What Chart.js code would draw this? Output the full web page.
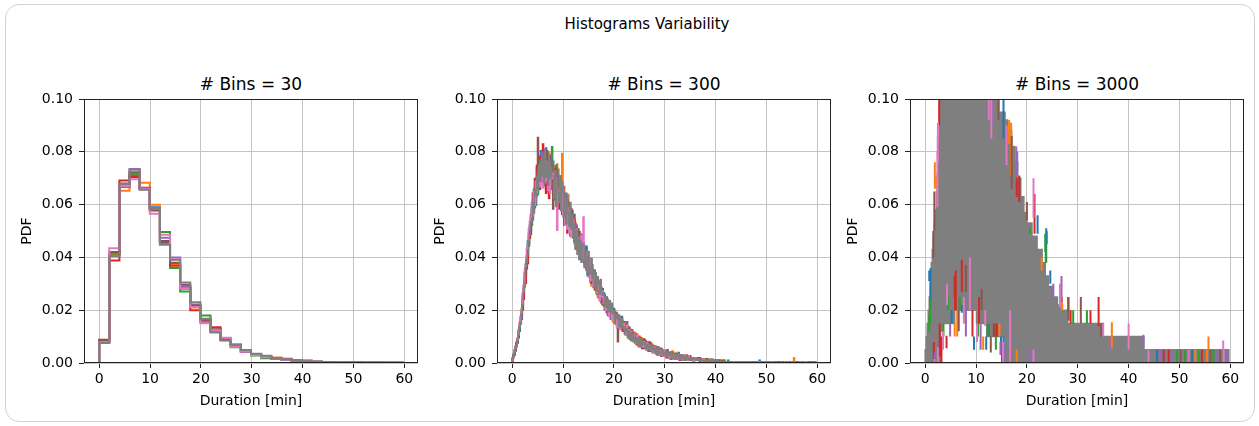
<!DOCTYPE html>
<html>
<head>
<meta charset="utf-8">
<script src="https://cdn.jsdelivr.net/npm/chart.js@4.4.0/dist/chart.umd.min.js"></script>
<style>
  html, body { margin: 0; padding: 0; background: #fff; }
  body { width: 1259px; height: 426px; position: relative; overflow: hidden; font-family: 'DejaVu Sans', sans-serif; color: #000; }
  .card { position: absolute; left: 5px; top: 4px; width: 1250px; height: 418px; border: 1px solid #d2d2d2; border-radius: 14px; box-sizing: border-box; }
  .suptitle { position: absolute; left: 447px; top: 14px; width: 400px; text-align: center; font-size: 15px; line-height: 20px; }
  .subtitle { position: absolute; top: 74px; width: 300px; text-align: center; font-size: 17px; line-height: 20px; }
  .panel { position: absolute; top: 70px; width: 420px; height: 355px; }
</style>
</head>
<body>
<div class="card"></div>
<div class="suptitle">Histograms Variability</div>
<div class="subtitle" style="left:101px"># Bins = 30</div>
<div class="subtitle" style="left:514px"># Bins = 300</div>
<div class="subtitle" style="left:927px"># Bins = 3000</div>
<div class="panel" style="left:0px"><canvas id="h30" width="420" height="355"></canvas></div>
<div class="panel" style="left:413px"><canvas id="h300" width="420" height="355"></canvas></div>
<div class="panel" style="left:826px"><canvas id="h3000" width="420" height="355"></canvas></div>
<script>
// durations span 0 .. 59.7 min, 10000 samples per series
const dataMin = 0;
const dataMax = 59.7;
const sampleSize = 10000;

const xTicks = [0, 10, 20, 30, 40, 50, 60];
const yTicks = [0, 0.02, 0.04, 0.06, 0.08, 0.1];

const seriesColors = ['#1f77b4', '#ff7f0e', '#2ca02c', '#d62728', '#9467bd', '#8c564b', '#e377c2', '#7f7f7f'];

// 30 bins: density per bin
const pdf30Blue   = [.0080,.0412,.0668,.0722,.0662,.0590,.0462,.0378,.0284,.0214,.0162,.0122,.0088,.0062,.0045,.0030,.0024,.0017,.0013,.0010,.0007,.0005,.0004,.0003,.0002,.0002,.0001,.0001,.0001,.0001];
const pdf30Orange = [.0084,.0408,.0652,.0716,.0683,.0599,.0455,.0372,.0280,.0210,.0158,.0126,.0086,.0066,.0042,.0034,.0025,.0021,.0015,.0009,.0008,.0005,.0003,.0003,.0002,.0001,.0002,.0001,.0001,.0000];
const pdf30Green  = [.0078,.0415,.0668,.0712,.0660,.0585,.0496,.0360,.0271,.0216,.0180,.0118,.0090,.0060,.0047,.0028,.0018,.0019,.0014,.0011,.0006,.0005,.0003,.0002,.0002,.0002,.0001,.0001,.0000,.0001];
const pdf30Red    = [.0088,.0388,.0691,.0705,.0664,.0578,.0460,.0368,.0290,.0200,.0165,.0135,.0092,.0070,.0044,.0033,.0026,.0016,.0016,.0009,.0009,.0004,.0004,.0002,.0002,.0002,.0001,.0002,.0001,.0001];
const pdf30Purple = [.0081,.0418,.0672,.0735,.0658,.0588,.0474,.0400,.0288,.0222,.0155,.0120,.0094,.0064,.0043,.0031,.0023,.0018,.0012,.0010,.0007,.0004,.0003,.0003,.0001,.0001,.0001,.0001,.0001,.0000];
const pdf30Brown  = [.0086,.0420,.0680,.0722,.0662,.0580,.0456,.0380,.0296,.0218,.0164,.0128,.0089,.0068,.0046,.0032,.0024,.0017,.0015,.0010,.0008,.0005,.0003,.0002,.0002,.0001,.0001,.0001,.0001,.0001];
const pdf30Pink   = [.0079,.0435,.0670,.0696,.0660,.0565,.0486,.0392,.0282,.0212,.0151,.0124,.0096,.0062,.0044,.0030,.0022,.0017,.0013,.0010,.0007,.0004,.0003,.0002,.0002,.0001,.0001,.0001,.0001,.0001];
const pdf30Gray   = [.0076,.0404,.0678,.0732,.0656,.0583,.0448,.0391,.0305,.0230,.0168,.0116,.0085,.0069,.0049,.0035,.0027,.0019,.0014,.0011,.0007,.0005,.0004,.0002,.0002,.0001,.0001,.0001,.0001,.0001];

// 300 bins: counts per bin (10 bins = 2 min per group)
const counts300Blue = [
  3,4,10,9,16,15,25,24,35,33, 51,49,68,66,71,92,88,104,99,118, 108,131,122,119,147,129,152,135,160,139,
  133,158,141,162,137,150,128,155,139,131, 152,127,145,121,138,146,117,135,139,112, 131,116,108,128,122,99,119,115,96,112,
  95,112,104,86,101,99,78,94,97,80, 91,74,84,88,66,79,76,61,72,70, 57,70,63,52,65,49,61,58,45,56,
  53,40,49,47,36,45,43,33,44,35, 41,30,37,35,26,36,27,33,35,24, 30,22,28,31,19,27,24,17,25,18,
  23,15,21,19,13,20,14,19,11,17, 17,11,15,14,9,16,10,13,14,8, 13,8,11,7,12,10,6,11,9,5,
  9,5,8,10,6,4,8,7,3,7, 7,3,6,4,8,5,2,6,4,5, 5,3,6,2,4,5,2,4,3,1,
  2,4,3,3,2,4,2,3,2,2, 2,3,1,3,2,2,1,3,2,1, 1,2,2,1,1,2,1,1,0,2,
  1,1,0,2,1,0,1,1,0,1, 0,1,1,0,1,0,0,1,1,0, 1,0,0,1,0,1,0,0,1,0,
  0,1,0,0,2,0,0,1,0,0, 1,0,0,1,0,0,1,0,0,1, 0,0,1,0,0,1,0,0,0,1,
  0,1,0,0,0,1,0,0,1,0, 0,0,1,0,0,0,1,0,0,0, 1,0,0,0,1,0,0,0,1,0
];
const counts300Orange = [
  1,7,6,13,12,19,20,30,29,41, 40,58,57,75,81,79,98,95,112,107, 123,115,133,138,126,147,134,155,141,137,
  150,139,135,158,144,129,159,137,146,153, 131,148,139,125,150,123,139,119,133,158, 115,133,111,124,108,127,102,118,112,95,
  110,90,106,101,85,99,96,81,95,78, 77,89,72,84,80,65,78,73,58,74, 69,55,67,61,50,62,59,47,57,44,
  43,52,41,50,38,46,35,44,41,31, 33,40,29,38,35,27,34,26,33,30, 24,31,21,29,27,18,26,20,24,16,
  16,23,14,22,19,12,20,13,18,12, 12,17,10,16,11,14,9,15,8,13, 8,13,7,12,9,6,11,5,10,7,
  5,10,6,9,4,8,7,3,9,5, 3,8,4,7,6,3,6,2,5,3, 2,6,3,5,4,2,5,3,2,4,
  4,2,4,2,3,2,3,2,3,1, 3,1,3,2,2,1,3,1,2,2, 2,1,2,1,1,1,2,0,1,1,
  1,0,1,1,0,1,1,0,1,0, 1,0,0,1,0,0,1,0,0,1, 0,1,0,0,1,0,0,1,0,0,
  1,0,0,1,0,0,0,1,0,0, 0,1,0,0,0,1,0,0,1,0, 0,0,0,1,0,0,0,1,0,0,
  0,0,1,0,0,0,0,0,4,0, 0,1,0,0,0,0,1,0,0,0, 0,0,0,1,0,0,0,0,0,0
];
const counts300Green = [
  2,6,6,12,15,18,24,26,31,40, 49,52,66,71,74,88,90,97,110,104, 119,128,117,136,131,127,150,140,153,144,
  139,155,143,131,157,140,151,133,145,163, 146,130,141,149,126,137,124,141,118,129, 129,112,126,109,121,106,118,101,115,98,
  99,108,102,88,97,101,84,90,95,80, 86,79,74,83,70,76,73,62,71,66, 67,60,55,64,52,60,55,48,56,44,
  52,45,41,48,39,44,37,42,40,33, 39,34,30,37,29,34,28,32,27,25, 29,27,21,26,23,20,24,19,23,18,
  21,18,15,20,14,19,15,13,17,12, 16,13,10,15,11,14,9,12,10,8, 12,9,7,11,8,10,6,9,7,6,
  9,6,5,8,7,4,8,5,6,4, 7,5,3,6,4,6,3,5,2,4, 5,4,2,5,3,2,4,3,2,3,
  3,3,2,4,2,3,2,2,3,1, 2,2,2,3,1,2,2,1,2,2, 2,1,1,2,1,1,1,1,0,2,
  1,1,0,1,1,0,1,0,1,1, 0,1,0,0,1,0,1,0,0,1, 0,0,1,0,0,1,0,0,1,0,
  1,0,0,0,1,0,0,1,0,0, 0,0,1,0,0,0,1,0,0,0, 0,1,0,0,0,1,0,0,0,0,
  1,0,0,0,0,0,1,0,0,0, 0,0,1,0,0,0,0,1,0,0, 0,0,0,0,1,0,0,0,0,0
];
const counts300Red = [
  4,5,7,10,15,18,19,28,30,38, 40,48,61,60,76,75,90,94,97,112, 128,118,139,125,149,136,156,131,155,145,
  165,134,153,128,150,142,124,151,131,146, 141,123,146,131,127,140,116,136,120,115, 127,104,122,118,98,121,108,96,116,101,
  110,92,97,104,88,84,99,92,78,89, 87,76,85,70,80,67,73,76,60,68, 70,61,55,64,59,52,49,58,46,53,
  44,49,50,38,45,36,43,40,35,39, 40,31,37,29,36,33,27,30,32,24, 31,25,28,22,27,21,25,19,20,23,
  22,16,21,15,20,18,13,17,15,11, 18,12,16,11,15,9,15,12,10,13, 9,12,7,11,8,10,11,5,9,8,
  7,9,4,8,6,7,3,8,5,6, 6,3,7,4,5,2,6,4,3,5, 3,5,2,4,3,5,2,3,4,1,
  3,2,3,2,4,1,3,2,2,2, 2,2,3,1,2,1,2,2,1,2, 2,1,1,1,2,0,1,1,1,1,
  1,0,1,1,0,1,0,1,0,1, 0,1,0,1,0,0,1,0,1,0, 1,0,0,0,1,0,0,1,0,0,
  0,1,0,0,0,1,0,0,0,1, 0,0,1,0,0,0,0,1,0,0, 1,0,0,0,1,0,0,0,0,1,
  0,0,0,1,0,0,0,1,0,0, 0,1,0,0,0,0,1,0,0,0, 0,0,0,0,1,0,0,0,0,0
];
const counts300Purple = [
  1,5,9,11,12,17,23,30,31,35, 47,57,60,74,76,82,96,100,104,116, 111,127,131,122,141,143,133,150,137,159,
  156,140,161,150,139,155,148,134,157,138, 149,133,128,145,130,121,140,131,115,130, 133,114,121,108,126,104,115,111,99,108,
  107,96,105,90,99,95,86,97,82,91, 89,80,74,83,72,78,65,75,69,63, 61,66,58,62,53,59,50,56,49,51,
  51,43,48,40,47,38,45,36,42,34, 34,38,31,36,28,33,31,26,32,27, 26,29,23,27,20,26,21,24,18,22,
  20,17,21,15,18,16,19,14,16,15, 13,16,11,15,10,14,12,9,13,10, 9,11,8,12,7,10,8,9,6,9,
  6,8,5,9,7,5,8,4,7,6, 4,6,5,3,7,4,5,3,5,2, 3,5,4,2,5,3,2,4,3,2,
  3,2,3,2,3,2,2,2,2,2, 2,2,2,1,2,2,1,2,1,2, 1,2,1,1,1,1,1,0,1,1,
  1,0,1,0,1,0,1,0,0,1, 0,1,0,1,0,0,0,1,0,0, 0,0,1,0,0,1,0,0,0,1,
  0,0,0,1,0,0,1,0,0,0, 1,0,0,0,0,1,0,0,0,0, 0,0,1,0,0,0,0,1,0,0,
  0,1,0,0,0,0,0,0,1,0, 0,0,0,1,0,0,0,0,0,1, 0,0,1,0,0,0,0,0,0,1
];
const counts300Brown = [
  2,6,7,12,14,16,23,27,33,36, 44,56,63,67,80,86,89,102,103,113, 113,125,121,135,128,170,136,148,139,153,
  140,152,146,135,160,139,147,156,134,149, 116,143,134,147,125,138,133,122,137,119, 128,117,125,112,123,107,120,104,110,115,
  97,108,94,102,100,89,96,83,93,86, 78,87,81,72,79,70,76,66,74,62, 65,59,67,55,62,53,60,47,56,50,
  46,51,42,49,40,46,38,44,35,41, 37,33,38,31,16,35,28,33,26,31, 25,30,23,28,21,27,19,25,22,17,
  17,22,16,20,14,19,13,18,12,16, 12,17,11,15,13,10,14,9,13,10, 11,8,12,6,10,9,7,10,6,9,
  8,5,9,6,8,4,7,5,8,4, 4,7,3,6,5,4,6,2,5,3, 3,5,2,5,4,2,4,2,3,3,
  3,3,2,3,2,3,2,3,1,2, 2,3,1,2,2,2,1,2,1,2, 1,2,1,2,1,1,0,2,1,1,
  1,1,0,1,0,1,1,0,0,1, 0,1,0,0,1,0,1,0,0,0, 1,0,0,1,0,0,0,1,0,0,
  0,0,1,0,0,1,0,0,0,1, 0,1,0,0,0,0,1,0,0,0, 0,0,0,1,0,0,0,0,1,0,
  1,0,0,0,0,1,0,0,0,0, 0,0,1,0,0,0,0,1,0,0, 0,0,0,0,1,0,0,0,0,0
];
const counts300Pink = [
  2,4,10,12,12,19,25,29,34,40, 53,59,70,74,86,89,101,107,110,121, 111,129,119,137,128,136,146,133,152,140,
  132,149,136,152,138,130,150,128,144,139, 143,128,141,124,100,131,122,138,117,130, 110,124,104,120,101,117,98,112,95,108,
  108,93,99,101,86,95,92,83,96,79, 110,78,80,84,70,74,79,62,70,68, 58,66,61,53,59,55,47,56,50,54,
  45,48,40,44,46,35,42,38,33,39, 31,36,33,27,32,30,25,31,27,29, 30,24,21,28,22,25,19,24,17,22,
  22,17,14,21,16,18,12,17,14,12, 16,12,10,15,11,13,10,13,8,11, 12,9,7,11,8,10,6,9,7,5,
  9,6,5,8,7,4,7,5,6,4, 7,4,3,6,5,3,5,4,2,4, 6,3,4,2,5,3,2,4,3,1,
  3,3,2,2,3,2,2,1,3,2, 2,2,1,2,2,1,2,1,2,1, 1,1,2,1,1,0,1,1,1,0,
  0,1,1,0,1,0,1,0,1,0, 1,0,0,1,0,1,0,0,1,0, 0,1,0,0,0,1,0,1,0,0,
  0,0,1,0,1,0,0,0,1,0, 0,1,0,0,0,0,1,0,0,0, 1,0,0,0,0,1,0,0,0,1,
  0,0,1,0,0,0,1,0,0,0, 0,0,0,1,0,0,0,0,1,0, 1,0,0,0,0,0,0,1,0,0
];
const counts300Gray = [
  1,5,8,11,13,17,21,27,30,37, 44,53,60,72,78,82,92,97,106,108, 121,113,131,126,140,131,149,137,153,141,
  154,136,159,140,151,134,156,139,148,141, 141,124,145,118,139,128,121,141,115,136, 129,110,126,105,123,113,103,121,101,112,
  94,104,86,100,82,95,79,92,76,90, 88,72,85,80,68,84,71,67,79,64, 70,57,68,54,65,61,52,63,55,51,
  52,43,50,42,48,39,47,38,45,37, 40,30,37,34,36,28,35,27,33,26, 27,22,24,26,20,24,18,23,17,22,
  20,16,19,14,19,13,18,12,17,14, 15,13,11,14,10,12,14,9,13,10, 11,8,11,7,11,8,7,9,10,6,
  8,7,5,8,6,7,5,8,4,6, 7,3,6,5,3,6,3,4,6,2, 5,2,5,3,4,2,4,2,3,3,
  3,2,3,2,3,2,2,2,2,1, 2,2,1,2,2,1,2,1,2,2, 1,1,2,1,1,1,1,0,1,1,
  1,0,1,0,1,1,0,1,0,0, 0,1,0,1,0,0,1,0,0,1, 1,0,0,0,1,0,0,1,0,0,
  0,1,0,0,0,0,1,0,0,1, 0,0,1,0,1,0,0,0,1,0, 1,0,0,0,0,1,0,0,0,0,
  0,1,0,0,0,0,0,1,0,0, 0,0,0,1,0,0,1,0,0,0, 0,0,0,0,0,1,0,0,1,0
];

// 3000 bins: too dense to draw bin by bin, so the gray mass is an envelope
// (lower / upper density per x interval) and other colours show as spikes
const env3000X  = [0, 0.2, 0.4, 0.6, 0.8, 1.0, 1.2, 1.4, 1.6, 1.8, 2.0, 2.2, 2.4, 2.6, 2.8, 3.0, 3.4, 5.8, 10.1, 12.1, 14.5, 15.0, 15.7, 16.2, 17.0, 17.6, 18.2, 18.8, 19.4, 20.0, 21.0, 22.0, 23.0, 23.6, 24.2, 25.0, 26.0, 27.0, 28.0, 35.0, 43.0, 59.7];
const env3000Hi = [.005, .010, .015, .020, .025, .030, .038, .043, .048, .053, .058, .065, .072, .080, .090, .12, .12, .12, .12, .12, .095, .095, .092, .088, .082, .076, .070, .063, .057, .053, .048, .043, .038, .033, .029, .025, .022, .020, .015, .010, .005];
const env3000Lo = [0, 0, 0, 0, 0, 0, 0, 0, 0, 0, 0, 0, 0, 0, 0, .012, .015, .020, .015, .010, .010, .010, 0, 0, 0, 0, 0, 0, 0, 0, 0, 0, 0, 0, 0, 0, 0, 0, 0, 0, 0];

// spikes: [x, low density, high density]
const spikes3000Blue = [[0.8, .031, .035], [1.05, .021, .036], [5.2, .015, .020], [7.2, .019, .022], [9.6, .005, .010], [12.0, .005, .010], [12.5, .010, .015], [14.9, .005, .010], [15.4, .005, .010], [15.4, .085, .100], [22.1, .049, .056], [23.8, .038, .051], [23.9, .045, .050], [24.6, .030, .035], [45.6, 0, .005], [52.5, 0, .005]];
const spikes3000Orange = [[1.9, .066, .076], [2.3, .066, .071], [5.7, .020, .025], [5.8, .010, .015], [6.3, .010, .020], [11.4, .005, .010], [14.6, .010, .015], [16.5, .083, .092], [16.9, .071, .091], [18.0, 0, .005], [22.9, .035, .040], [26.9, .020, .025], [36.3, .005, .010], [36.7, .0057, .0154], [53.1, 0, .005], [55.4, 0, .005], [55.7, .005, .010]];
const spikes3000Green = [[0.8, .012, .018], [0.95, .015, .024], [3.6, .010, .015], [4.5, .020, .025], [6.8, .020, .025], [7.9, .015, .020], [10.4, .010, .015], [12.3, .010, .015], [13.9, .005, .012], [20.6, .049, .051], [23.6, .042, .049], [23.7, .038, .045], [29.1, .015, .020], [31.8, .015, .020], [49.5, 0, .005], [51.1, 0, .005], [53.8, 0, .005], [56.7, 0, .005]];
const spikes3000Red = [[1.7, 0, .008], [2.75, .090, .100], [2.85, .0025, .015], [3.2, 0, .010], [4.2, .0056, .0103], [5.8, .020, .033], [6.0, .020, .035], [7.2, .027, .039], [9.3, .010, .020], [10.6, .015, .025], [13.5, .010, .015], [14.1, .010, .015], [15.1, 0, .006], [16.7, 0, .005], [18.0, .063, .070], [18.5, .061, .071], [21.5, .049, .064], [28.6, .015, .020], [32.5, .015, .020], [34.1, .014, .025], [46.9, 0, .005], [47.9, 0, .005], [54.4, 0, .005]];
const spikes3000Purple = [[1.9, 0, .004], [4.9, .010, .015], [8.0, .010, .021], [10.9, .005, .015], [13.1, .090, .100], [14.8, .003, .008], [15.6, 0, .005], [17.9, .071, .082], [18.1, .073, .080], [20.5, 0, .005], [25.2, .025, .030], [26.8, .023, .033], [36.3, .005, .010], [42.9, .0057, .0107], [46.2, 0, .005], [48.5, 0, .005], [57.4, 0, .005], [59.4, 0, .005]];
const spikes3000Brown = [[1.6, .040, .050], [1.8, .050, .065], [2.5, .078, .086], [6.6, .012, .020], [8.0, .027, .037], [11.1, .020, .028], [12.9, .004, .010], [13.7, .010, .015], [14.4, .092, .100], [17.0, .066, .086], [20.0, .054, .061], [28.1, .019, .025], [28.2, .016, .025], [30.6, .015, .025], [34.6, .010, .015], [50.2, 0, .005], [56.1, 0, .005], [58.0, 0, .005]];
const spikes3000Pink = [[1.8, 0, .0015], [2.4, .059, .080], [2.5, .076, .091], [2.5, 0, .006], [3.5, .005, .012], [4.3, .022, .030], [7.6, .015, .025], [8.8, .020, .040], [10.2, .008, .015], [11.8, .014, .020], [12.5, .092, .100], [13.0, .085, .100], [15.3, 0, .008], [16.0, .075, .090], [16.7, 0, .020], [21.3, .055, .070], [21.3, 0, .005], [26.5, .021, .030], [35.0, .010, .015], [40.0, .005, .015], [43.9, 0, .005], [51.8, 0, .005], [58.6, .005, .0085], [58.7, 0, .005]];

const pdf30 = [pdf30Blue, pdf30Orange, pdf30Green, pdf30Red, pdf30Purple, pdf30Brown, pdf30Pink, pdf30Gray];
const counts300 = [counts300Blue, counts300Orange, counts300Green, counts300Red, counts300Purple, counts300Brown, counts300Pink, counts300Gray];
const spikes3000 = [spikes3000Blue, spikes3000Orange, spikes3000Green, spikes3000Red, spikes3000Purple, spikes3000Brown, spikes3000Pink];

Chart.defaults.font.family = "'DejaVu Sans', sans-serif";
Chart.defaults.font.size = 14;
Chart.defaults.color = '#000';

function binEdges(n) {
  return Array.from({ length: n + 1 }, (_, i) => dataMin + i * (dataMax - dataMin) / n);
}

// outline of a step histogram, starting and ending on the baseline
function stepPoints(edges, vals) {
  const pts = [{ x: edges[0], y: 0 }];
  vals.forEach((v, i) => pts.push({ x: edges[i + 1], y: v }));
  pts.push({ x: edges[edges.length - 1], y: 0 });
  return pts;
}

const frame = {
  id: 'frame',
  afterDatasetsDraw(chart) {
    const { ctx, chartArea: a } = chart;
    ctx.save();
    ctx.strokeStyle = '#222';
    ctx.lineWidth = 1;
    ctx.strokeRect(Math.round(a.left) + 0.5, Math.round(a.top) + 0.5, Math.round(a.right - a.left) - 1, Math.round(a.bottom - a.top) - 1);
    ctx.restore();
  }
};

const pad = (dataMax - dataMin) * 0.05;
const gridStyle = { color: '#c4c4c4', lineWidth: 1, tickLength: 5, tickColor: '#222', tickWidth: 1 };

function makeOptions() {
  return {
    responsive: false,
    animation: false,
    events: [],
    layout: { padding: { top: 29, right: 2, bottom: 0, left: 0 } },
    plugins: { legend: { display: false }, tooltip: { enabled: false } },
    scales: {
      x: {
        type: 'linear',
        min: dataMin - pad,
        max: dataMax + pad,
        afterBuildTicks: s => { s.ticks = xTicks.map(v => ({ value: v })); },
        afterFit: s => { s.height = 62; },
        ticks: { padding: 3, maxRotation: 0, autoSkip: false },
        grid: gridStyle,
        border: { display: false },
        title: { display: true, text: 'Duration [min]', padding: { top: 0, bottom: 15 } }
      },
      y: {
        min: 0,
        max: 0.1,
        afterBuildTicks: s => { s.ticks = yTicks.map(v => ({ value: v })); },
        afterFit: s => { s.width = 84; },
        ticks: { padding: 6, callback: v => v.toFixed(2) },
        grid: gridStyle,
        border: { display: false },
        title: { display: true, text: 'PDF', padding: { top: 19, bottom: 0 } }
      }
    }
  };
}

// # Bins = 30
const edges30 = binEdges(30);
new Chart(document.getElementById('h30'), {
  type: 'line',
  data: {
    datasets: pdf30.map((vals, k) => ({
      data: stepPoints(edges30, vals),
      borderColor: seriesColors[k],
      borderWidth: 2,
      pointRadius: 0,
      fill: false,
      stepped: 'after',
      order: 8 - k
    }))
  },
  options: makeOptions(),
  plugins: [frame]
});

// # Bins = 300
const edges300 = binEdges(300);
const width300 = (dataMax - dataMin) / 300;
new Chart(document.getElementById('h300'), {
  type: 'line',
  data: {
    datasets: counts300.map((counts, k) => ({
      data: stepPoints(edges300, counts.map(c => c / (sampleSize * width300))),
      borderColor: seriesColors[k],
      borderWidth: 1.5,
      pointRadius: 0,
      fill: false,
      stepped: 'after',
      order: 8 - k
    }))
  },
  options: makeOptions(),
  plugins: [frame]
});

// # Bins = 3000
const spikeSets = spikes3000.map((list, k) => ({
  data: list.flatMap(([x, lo, hi]) => [{ x: x, y: lo }, { x: x, y: hi }, { x: x, y: null }]),
  borderColor: seriesColors[k],
  borderWidth: 2,
  pointRadius: 0,
  fill: false,
  spanGaps: false,
  order: 8 - k
}));
new Chart(document.getElementById('h3000'), {
  type: 'line',
  data: {
    datasets: [
      {
        data: stepPoints(env3000X, env3000Lo),
        borderColor: seriesColors[7],
        borderWidth: 1.5,
        pointRadius: 0,
        fill: false,
        stepped: 'after',
        order: 20
      },
      {
        data: stepPoints(env3000X, env3000Hi),
        borderColor: seriesColors[7],
        backgroundColor: seriesColors[7],
        borderWidth: 1.5,
        pointRadius: 0,
        fill: '-1',
        stepped: 'after',
        order: 19
      },
      ...spikeSets
    ]
  },
  options: makeOptions(),
  plugins: [frame]
});
</script>
</body>
</html>
